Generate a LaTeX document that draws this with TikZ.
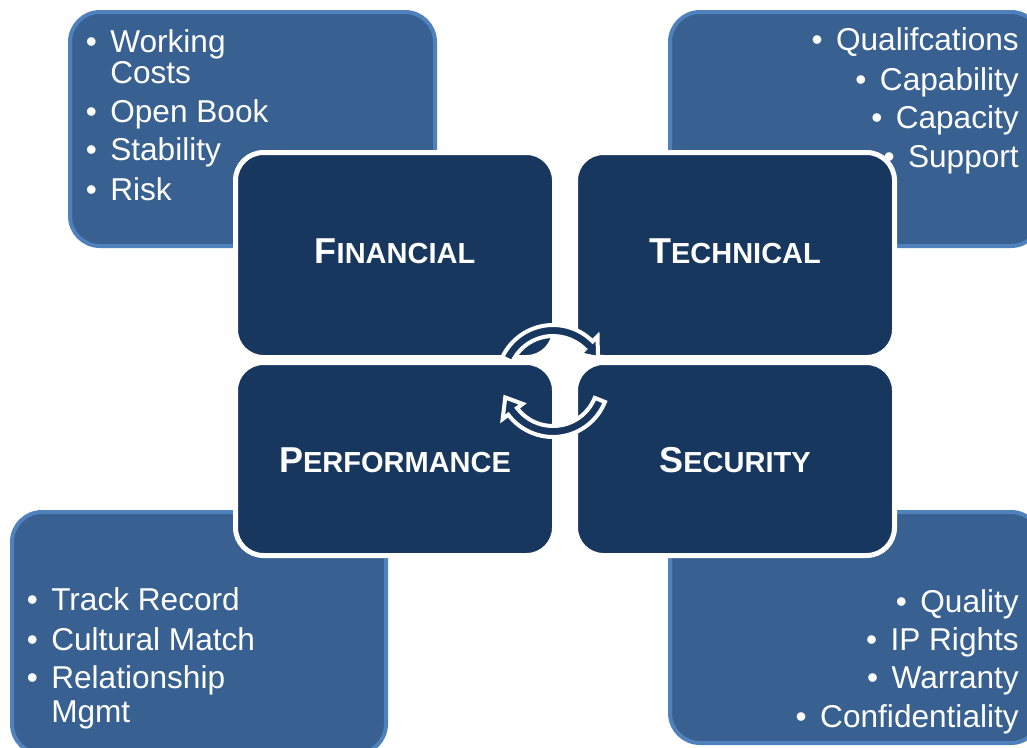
\documentclass[tikz,border=0pt]{standalone}
\usepackage{fontspec}
\setmainfont{Liberation Sans}
\usepackage{tikz}

\definecolor{outerfill}{RGB}{56,97,146}
\definecolor{outerline}{RGB}{79,129,189}
\definecolor{navy}{RGB}{23,55,94}
\newcommand{\bul}{\makebox[18.4pt][l]{\textbullet}}
\newcommand{\hd}[2]{\fontsize{27}{27}\selectfont\bfseries #1{\fontsize{21.75}{22}\selectfont #2}}

\begin{document}
\begin{tikzpicture}[x=0.75pt,y=0.75pt,yscale=-1,xscale=1,
  outerbox/.style={draw=outerline,line width=3pt,fill=outerfill,rounded corners=22.5pt},
  innerbox/.style={draw=white,line width=3.75pt,fill=navy,rounded corners=21pt},
  itemtxt/.style={inner sep=0pt,text=white,font=\fontsize{23.7}{24}\selectfont},
  headtxt/.style={inner sep=0pt,text=white,anchor=base},
  cycarrow/.style={draw=white,line width=3pt,fill=navy,line join=miter}]
%set diagram left start at 0, and has size of 1027 x 747
\useasboundingbox (0,0) rectangle (1027,747);

%Rounded Rect: outer boxes
\draw [outerbox] (70,12) rectangle (435,246);
\draw [outerbox] (670,12) rectangle (1041,246);
\draw [outerbox] (12,512) rectangle (386,754);
\draw [outerbox] (670,512) rectangle (1041,743);

% Text Node
\draw (85.5,52) node (wrk) [anchor=base west][itemtxt] {\bul Working};
% Text Node
\draw (110,83) node (cst) [anchor=base west][itemtxt] {Costs};
% Text Node
\draw (85.5,122) node (opb) [anchor=base west][itemtxt] {\bul Open Book};
% Text Node
\draw (85.5,160) node (stb) [anchor=base west][itemtxt] {\bul Stability};
% Text Node
\draw (85.5,200) node (rsk) [anchor=base west][itemtxt] {\bul Risk};

% Text Node
\draw (1019,50) node (qlf) [anchor=base east][itemtxt] {\bul Qualifcations};
% Text Node
\draw (1019,90) node (cpb) [anchor=base east][itemtxt] {\bul Capability};
% Text Node
\draw (1019,128) node (cpc) [anchor=base east][itemtxt] {\bul Capacity};
% Text Node
\draw (1019,167) node (spt) [anchor=base east][itemtxt] {\bul Support};

% Text Node
\draw (26.5,610) node (trk) [anchor=base west][itemtxt] {\bul Track Record};
% Text Node
\draw (26.5,650) node (cul) [anchor=base west][itemtxt] {\bul Cultural Match};
% Text Node
\draw (26.5,688) node (rel) [anchor=base west][itemtxt] {\bul Relationship};
% Text Node
\draw (51,722) node (mgm) [anchor=base west][itemtxt] {Mgmt};

% Text Node
\draw (1019,612) node (qly) [anchor=base east][itemtxt] {\bul Quality};
% Text Node
\draw (1019,650) node (ipr) [anchor=base east][itemtxt] {\bul IP Rights};
% Text Node
\draw (1019,688) node (wrn) [anchor=base east][itemtxt] {\bul Warranty};
% Text Node
\draw (1019,727) node (cnf) [anchor=base east][itemtxt] {\bul Confidentiality};

%Rounded Rect: inner boxes
\draw [innerbox] (235.5,152.5) rectangle (554.5,357.5);
\draw [innerbox] (575.5,152.5) rectangle (894.5,357.5);
\draw [innerbox] (235.5,362.5) rectangle (554.5,555.5);
\draw [innerbox] (575.5,362.5) rectangle (894.5,555.5);

% Text Node
\draw (395,263) node (fin) [headtxt] {\hd{F}{INANCIAL}};
% Text Node
\draw (735,263) node (tec) [headtxt] {\hd{T}{ECHNICAL}};
% Text Node
\draw (395,472) node (prf) [headtxt] {\hd{P}{ERFORMANCE}};
% Text Node
\draw (735,472) node (sec) [headtxt] {\hd{S}{ECURITY}};

%Shape: Circular Arrows
\begin{scope}[shift={(553,381)},yscale=-1]
\draw [cycarrow] (155:56) arc [start angle=155,end angle=45,radius=56] -- (45:63) -- (27:50.5) -- (45:38) -- (45:45) arc [start angle=45,end angle=155,radius=45] -- cycle;
\draw [cycarrow] (-22:56) arc [start angle=-22,end angle=-143,radius=56] -- (-143:63) -- (-161:50.5) -- (-143:38) -- (-143:45) arc [start angle=-143,end angle=-22,radius=45] -- cycle;
\end{scope}
\end{tikzpicture}
\end{document}
